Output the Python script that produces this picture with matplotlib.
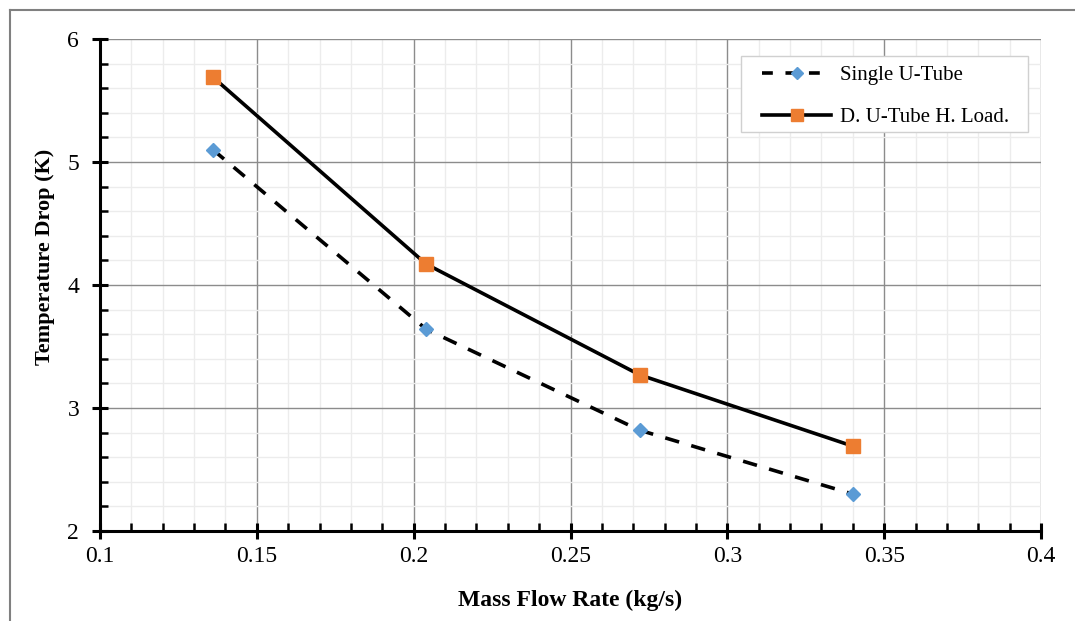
import matplotlib
matplotlib.use("Agg")
import matplotlib.pyplot as plt
from matplotlib.ticker import MultipleLocator
from matplotlib.lines import Line2D
from matplotlib.patches import Rectangle

mass_flow = [0.136, 0.204, 0.272, 0.340]
single_u = [5.10, 3.64, 2.82, 2.30]
double_u = [5.69, 4.17, 3.27, 2.69]
x_ticks = [0.1, 0.15, 0.2, 0.25, 0.3, 0.35, 0.4]
x_tick_labels = ["0.1", "0.15", "0.2", "0.25", "0.3", "0.35", "0.4"]
y_ticks = [2, 3, 4, 5, 6]
series_names = ['Single U-Tube', 'D. U-Tube H. Load.']

plt.rcParams['font.family'] = ['Liberation Serif', 'DejaVu Serif']

W, H = 1075, 621
fig = plt.figure(figsize=(W/100, H/100), dpi=100)
ax = fig.add_axes([100/W, 1-531/H, (1041-100)/W, (531-39)/H])

ax.plot(mass_flow, single_u, color='black', lw=2.6, ls=(0, (4, 3.5)), zorder=3)
ax.plot(mass_flow, double_u, color='black', lw=2.6, zorder=3)
ax.plot(mass_flow, single_u, ls='none', marker='D', ms=7.5, color='#5B9BD5', zorder=4)
ax.plot(mass_flow, double_u, ls='none', marker='s', ms=10, color='#ED7D31', zorder=4)

ax.set_xlim(0.1, 0.4)
ax.set_ylim(2, 6)
ax.set_xticks(x_ticks)
ax.set_xticklabels(x_tick_labels)
ax.set_yticks(y_ticks)
ax.xaxis.set_minor_locator(MultipleLocator(0.01))
ax.yaxis.set_minor_locator(MultipleLocator(0.2))

ax.grid(which='major', color='#8c8c8c', lw=1.0, zorder=1)
ax.grid(which='minor', color='#ececec', lw=1.0, zorder=0)
ax.set_axisbelow(True)

for s in ['top', 'right']:
    ax.spines[s].set_visible(False)
for s in ['left', 'bottom']:
    ax.spines[s].set_linewidth(2.2)
    ax.spines[s].set_zorder(5)

ax.tick_params(which='major', direction='inout', length=12, width=2.2, labelsize=17)
ax.tick_params(axis='x', which='major', pad=5)
ax.tick_params(axis='y', which='major', pad=9)
ax.tick_params(which='minor', direction='in', length=6, width=1.8)

ax.set_xlabel('Mass Flow Rate (kg/s)', fontsize=17, fontweight='bold', labelpad=16)
ax.set_ylabel('Temperature Drop (K)', fontsize=16, fontweight='bold', labelpad=9)
ax.yaxis.label.set_y((531-257)/(531-39))

# legend box (frame drawn separately to match the reference box size)
box = Rectangle((741/W, 1-132/H), (1028-741)/W, (132-56)/H, transform=fig.transFigure,
                facecolor='white', edgecolor='#d0d0d0', lw=1.0, zorder=6, clip_on=False)
ax.add_patch(box)

handles = [
    Line2D([], [], color='black', lw=2.6, ls=(0, (3, 3.5)), marker='D', ms=6.5, mfc='#5B9BD5', mec='#5B9BD5'),
    Line2D([], [], color='black', lw=2.6, marker='s', ms=9, mfc='#ED7D31', mec='#ED7D31'),
]
leg = ax.legend(handles, series_names, loc='upper right',
                bbox_to_anchor=(1019/W, 1-56/H), bbox_transform=fig.transFigure,
                fontsize=15, frameon=False, handlelength=3.3, borderpad=0.45,
                labelspacing=1.1, handletextpad=0.45, borderaxespad=0)
leg.set_zorder(7)

fig.add_artist(Line2D([10/W, 1], [1-10/H, 1-10/H], color='#808080', lw=1.5, transform=fig.transFigure))
fig.add_artist(Line2D([10/W, 10/W], [0, 1-10/H], color='#808080', lw=1.5, transform=fig.transFigure))

fig.savefig('out.png', dpi=100)
